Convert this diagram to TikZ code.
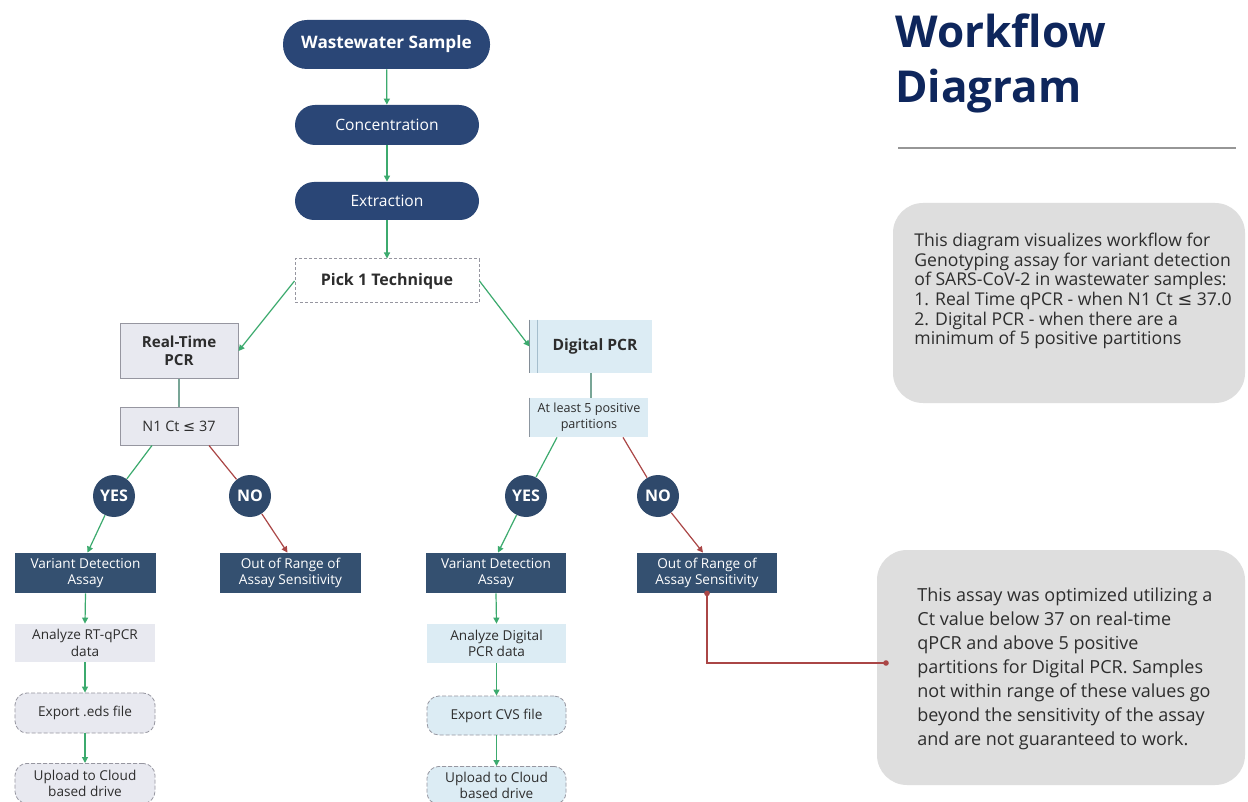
\documentclass[tikz,border=0pt]{standalone}
\usepackage{fontspec}
\setmainfont{Open Sans}
\newfontfamily\symfont{DejaVu Sans}
\usetikzlibrary{arrows.meta}
\definecolor{navyA}{RGB}{42,70,118}
\definecolor{navyB}{RGB}{47,73,107}
\definecolor{navyC}{RGB}{52,80,112}
\definecolor{titlec}{RGB}{14,38,92}
\definecolor{grn}{RGB}{60,170,110}
\definecolor{grngray}{RGB}{120,165,150}
\definecolor{redl}{RGB}{170,70,70}
\definecolor{lgray}{RGB}{232,233,240}
\definecolor{lblue}{RGB}{220,236,244}
\definecolor{bordg}{RGB}{150,150,160}
\definecolor{infog}{RGB}{222,222,222}
\definecolor{txtd}{RGB}{45,45,45}
\begin{document}
\begin{tikzpicture}[x=0.5pt,y=-0.5pt,
  base/.style={inner sep=0pt, align=center, font=\fontsize{6.8}{8.2}\selectfont, text=txtd},
  pill/.style={base, fill=navyA, text=white, rounded corners=#1},
  darkbox/.style={base, fill=navyC, text=white},
  graybox/.style={base, fill=lgray},
  bluebox/.style={base, fill=lblue},
  dashbox/.style={base, draw=bordg, dash pattern=on 2pt off 1pt, rounded corners=6pt, line width=0.4pt},
  circ/.style={circle, fill=navyB, text=white, minimum size=21pt, inner sep=0pt, font=\fontsize{8}{9}\selectfont\bfseries},
  garrow/.style={draw=grn, line width=0.6pt, -{Triangle[length=3pt,width=3pt]}},
  gline/.style={draw=grn, line width=0.6pt},
  ggline/.style={draw=grngray, line width=0.7pt},
  rarrow/.style={draw=redl, line width=0.6pt, -{Triangle[length=3pt,width=3pt]}},
  rline/.style={draw=redl, line width=0.6pt},
  infobox/.style={fill=infog, rounded corners=15pt, inner sep=0pt},
  infotext/.style={inner sep=0pt, align=left, anchor=west, text=txtd}
]
\clip (0,0) rectangle (1248,802);
\fill[white] (0,0) rectangle (1248,802);

% ---------- top column ----------
\node[pill=12pt, font=\fontsize{8.6}{10}\selectfont\bfseries, minimum width=103.5pt, minimum height=24.5pt] (ws) at (386.5,44.5) {Wastewater Sample};
\node[pill=10pt, font=\fontsize{7.8}{9}\selectfont, minimum width=92pt, minimum height=20pt] (conc) at (387,125) {Concentration};
\node[pill=9.5pt, font=\fontsize{7.8}{9}\selectfont, minimum width=92pt, minimum height=19pt] (extr) at (387,201) {Extraction};
\node[base, draw=bordg, dash pattern=on 1.5pt off 1pt, line width=0.5pt, font=\fontsize{8}{9.5}\selectfont\bfseries, minimum width=92pt, minimum height=22pt] (pick) at (387,281) {Pick 1 Technique};

\draw[garrow] (ws) -- (conc);
\draw[garrow] (conc) -- (extr);
\draw[garrow] (extr) -- (pick);

% ---------- left branch ----------
\node[graybox, draw=bordg, line width=0.5pt, font=\fontsize{7.6}{9.2}\selectfont\bfseries, minimum width=59pt, minimum height=27pt] (rt) at (179,351) {Real-Time\\PCR};
\node[graybox, draw=bordg, line width=0.5pt, font=\fontsize{7.2}{8.5}\selectfont, minimum width=59pt, minimum height=19pt] (n1) at (179,426) {N1 Ct {\symfont ≤} 37};
\node[circ] (yes1) at (114,496) {YES};
\node[circ] (no1) at (250,496) {NO};
\node[darkbox, minimum width=70.5pt, minimum height=20pt] (var1) at (85.5,573) {Variant Detection\\Assay};
\node[darkbox, minimum width=70.5pt, minimum height=20pt] (oor1) at (290.5,573) {Out of Range of\\Assay Sensitivity};
\node[graybox, minimum width=70pt, minimum height=19pt] (ana1) at (85,643) {Analyze RT-qPCR\\data};
\node[dashbox, fill=lgray, minimum width=70pt, minimum height=20pt] (exp1) at (85,713) {Export .eds file};
\node[dashbox, fill=lgray, minimum width=70pt, minimum height=20pt, anchor=north] (up1) at (85,763) {Upload to Cloud\\based drive};

\draw[garrow] (pick.west) -- (rt.east);
\draw[ggline] (rt.south) -- (n1.north);
\draw[gline] ([xshift=-13.5pt]n1.south) -- (yes1);
\draw[rline] ([xshift=15pt]n1.south) -- (no1);
\draw[garrow] (yes1) -- ([xshift=1pt]var1.north);
\draw[rarrow] (no1) -- ([xshift=-1.5pt]oor1.north);
\draw[garrow] (var1.south) -- (ana1.north);
\draw[garrow] (ana1.south) -- (exp1.north);
\draw[garrow] (exp1.south) -- (up1.north);

% ---------- right branch ----------
\node[bluebox, font=\fontsize{7.8}{9.2}\selectfont\bfseries, minimum width=61pt, minimum height=26.5pt] (dpcr) at (591,346.5) {\hspace*{4pt}Digital PCR};
\draw[draw={rgb,255:red,130;green,140;blue,150}, line width=0.7pt] (dpcr.north west) -- (dpcr.south west);
\draw[draw={rgb,255:red,165;green,190;blue,205}, line width=0.6pt] ([xshift=4pt]dpcr.north west) -- ([xshift=4pt]dpcr.south west);
\node[bluebox, font=\fontsize{6.3}{8}\selectfont, minimum width=59pt, minimum height=19.5pt] (al5) at (589,417.5) {At least 5 positive\\partitions};
\draw[draw={rgb,255:red,140;green,150;blue,160}, line width=0.6pt] (al5.north west) -- (al5.south west);
\node[circ] (yes2) at (526,496) {YES};
\node[circ] (no2) at (658,496) {NO};
\node[darkbox, minimum width=70pt, minimum height=20pt] (var2) at (496,573) {Variant Detection\\Assay};
\node[darkbox, minimum width=70pt, minimum height=20pt] (oor2) at (707,573) {Out of Range of\\Assay Sensitivity};
\node[bluebox, minimum width=69.5pt, minimum height=19.5pt] (ana2) at (496.5,643.5) {Analyze Digital\\PCR data};
\node[dashbox, fill=lblue, minimum width=69.5pt, minimum height=19.5pt] (exp2) at (496.5,715.5) {Export CVS file};
\node[dashbox, fill=lblue, minimum width=69.5pt, minimum height=19pt, anchor=north, font=\fontsize{6.8}{7.8}\selectfont] (up2) at (496.5,766) {Upload to Cloud\\based drive};

\draw[garrow] (pick.east) -- (dpcr.west);
\draw[ggline] (dpcr.south) -- (dpcr.south |- al5.north);
\draw[gline] ([xshift=-16pt]al5.south) -- (yes2);
\draw[rline] ([xshift=17pt]al5.south) -- (no2);
\draw[garrow] (yes2) -- ([xshift=1pt]var2.north);
\draw[rarrow] (no2) -- ([xshift=-2pt]oor2.north);
\draw[garrow] (var2.south) -- (ana2.north);
\draw[garrow] (ana2.south) -- (exp2.north);
\draw[garrow] (exp2.south) -- (up2.north);

% ---------- right panel ----------
\node[anchor=base west, inner sep=0pt, text=titlec, font=\fontsize{22}{26}\selectfont\bfseries] (t1) at (895,48) {Workflow};
\node[anchor=base west, inner sep=0pt, text=titlec, font=\fontsize{22}{26}\selectfont\bfseries] (t2) at (895,103) {Diagram};
\coordinate (hl1) at (898,148);
\coordinate (hl2) at (1236,148);
\draw[draw={rgb,255:red,150;green,150;blue,150}, line width=1pt] (hl1) -- (hl2);

\node[infobox, minimum width=176pt, minimum height=100pt] (info1) at (1069,303) {};
\node[infotext, font=\fontsize{8.8}{9.8}\selectfont] (info1t) at (914,291) {This diagram visualizes workflow for\\Genotyping assay for variant detection\\of SARS-CoV-2 in wastewater samples:\\1. Real Time qPCR - when N1 Ct {\symfont ≤} 37.0\\2. Digital PCR - when there are a\\minimum of 5 positive partitions};

\node[infobox, minimum width=184pt, minimum height=117.5pt] (info2) at (1061,667.5) {};
\node[infotext, font=\fontsize{9}{12}\selectfont] (info2t) at (917,669) {This assay was optimized utilizing a\\Ct value below 37 on real-time\\qPCR and above 5 positive\\partitions for Digital PCR. Samples\\not within range of these values go\\beyond the sensitivity of the assay\\and are not guaranteed to work.};

\coordinate (lvl) at (0,663);
\coordinate (dotend) at (886,663);
\draw[rline] (oor2.south) -- (oor2.south |- lvl) -- (dotend);
\fill[redl] (oor2.south) circle (1.4pt);
\fill[redl] (dotend) circle (1.4pt);
\end{tikzpicture}
\end{document}
